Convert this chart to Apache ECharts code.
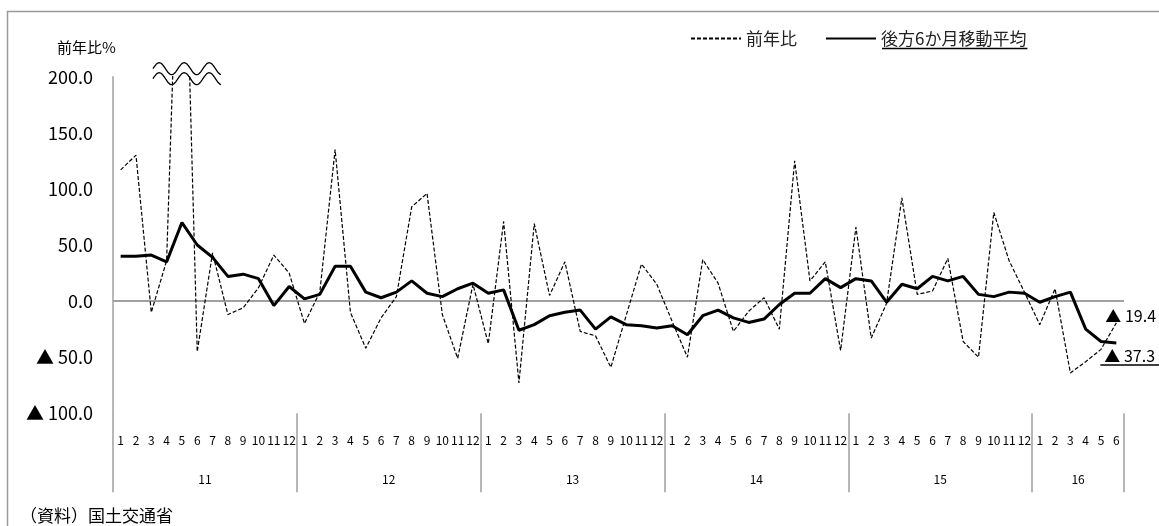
<!DOCTYPE html>
<html>
<head>
<meta charset="utf-8">
<script src="https://cdn.jsdelivr.net/npm/echarts/dist/echarts.min.js"></script>
<style>
  html, body { margin: 0; padding: 0; background: #fff; }
  #main { width: 1159px; height: 526px; }
</style>
</head>
<body>
<div id="main"></div>
<script>
// ===== データ =====
const years = ['11', '12', '13', '14', '15', '16']
const monthsInYear = [12, 12, 12, 12, 12, 6]

// 前年比（%）  11年5月は枠外（200超）
const yoy = [
  117, 130, -10, 36, 450, -45, 43, -12, -6, 12, 41, 25,
  -20, 8, 135, -10, -42, -15, 4, 84, 96, -12, -51, 15,
  -38, 71, -73, 69, 5, 35, -27, -31, -59, -13, 33, 15,
  -18, -50, 37, 16, -27, -9, 3, -25, 125, 18, 35, -44,
  66, -33, -2, 92, 6, 9, 38, -36, -50, 79, 36, 8,
  -21, 11, -64, -54, -43, -19.4
]
// 後方6か月移動平均（%）
const movingAvg = [
  40, 40, 41, 35, 70, 50, 39, 22, 24, 20, -4, 13,
  2, 6, 31, 31, 8, 3, 8, 18, 7, 4, 11, 16,
  7, 10, -26, -21, -13, -10, -8, -25, -14, -21, -22, -24,
  -22, -30, -13, -8, -15, -19, -16, -3, 7, 7, 20, 12,
  20, 18, -1, 15, 11, 22, 18, 22, 6, 4, 8, 7,
  -1, 4, 8, -25, -36, -37.3
]
const yMin = -100
const yMax = 200
const yStep = 50

// 月ラベルと年ラベルの組み立て
const months = []
const yearOfMonth = []
const yearStartIdx = []
const yearLabelIdx = []
let start = 0
years.forEach((y, i) => {
  yearStartIdx.push(start)
  yearLabelIdx.push(start + Math.floor(monthsInYear[i] / 2))
  for (let m = 1; m <= monthsInYear[i]; m++) {
    months.push(String(m))
    yearOfMonth.push(y)
  }
  start += monthsInYear[i]
})

const font = '"Noto Sans CJK JP", "Noto Sans", sans-serif'
const gray = '#a0a0a0'
const fmt = v => v < 0 ? '▲ ' + Math.abs(v).toFixed(1) : v.toFixed(1)

const grid = { left: 113, right: 35, top: 76.7, bottom: 112.7 }
const bandW = (1159 - grid.left - grid.right) / months.length

// 凡例テキストの幅（下線用）
const ctx = document.createElement('canvas').getContext('2d')
ctx.font = '17px ' + font
const maName = '後方6か月移動平均'
const maNameW = ctx.measureText(maName).width

let myChart = echarts.init(document.getElementById('main'))
let option = {
  animation: false,
  textStyle: { fontFamily: font, color: '#000' },
  title: [
    { text: '前年比%', left: 57, top: 40, padding: 0,
      textStyle: { fontSize: 15, fontWeight: 'normal', color: '#000', fontFamily: font } },
    { text: '（資料）国土交通省', left: 20, top: 507, padding: 0,
      textStyle: { fontSize: 17, fontWeight: 'normal', color: '#000', fontFamily: font } }
  ],
  legend: {
    left: 685, top: 25,
    itemWidth: 50, itemHeight: 12, itemGap: 28,
    itemStyle: { opacity: 0 },
    textStyle: { fontSize: 17, color: '#222', fontFamily: font },
    data: ['前年比', maName]
  },
  grid: Object.assign({ outerBoundsMode: 'none', containLabel: false }, grid),
  xAxis: [
    {
      type: 'category', data: months, position: 'bottom',
      axisLine: { show: false }, axisTick: { show: false },
      axisLabel: { interval: 0, fontSize: 12, margin: 21, color: '#000' }
    },
    {
      type: 'category', data: yearOfMonth, position: 'bottom',
      axisLine: { show: false },
      axisTick: {
        show: true, length: 79,
        interval: i => yearStartIdx.indexOf(i) >= 0,
        lineStyle: { color: gray, width: 1.5 }
      },
      axisLabel: {
        interval: i => yearLabelIdx.indexOf(i) >= 0,
        fontSize: 12, margin: 60, color: '#000',
        padding: [0, bandW, 0, 0]
      }
    }
  ],
  yAxis: {
    type: 'value', min: yMin, max: yMax, interval: yStep,
    axisLine: { show: true, lineStyle: { color: gray, width: 1.5 } },
    axisTick: { show: false },
    splitLine: { show: false },
    axisLabel: { fontSize: 18, color: '#000', margin: 20, formatter: fmt }
  },
  series: [
    {
      name: '前年比', type: 'line', data: yoy,
      xAxisIndex: 0, symbol: 'none', clip: true, z: 3,
      lineStyle: { color: '#000', width: 1.2, type: [4, 2] },
      itemStyle: { color: '#000' },
      endLabel: {
        show: true, distance: 0, offset: [-11, -7],
        fontSize: 16, color: '#000', fontFamily: font,
        formatter: p => fmt(p.value)
      },
      markLine: {
        silent: true, symbol: 'none', z: 1,
        label: { show: false },
        lineStyle: { color: gray, width: 2, type: 'solid' },
        data: [{ yAxis: 0 }]
      }
    },
    {
      name: maName, type: 'line', data: movingAvg,
      xAxisIndex: 0, symbol: 'none', clip: true, z: 4,
      lineStyle: { color: '#000', width: 3 },
      itemStyle: { color: '#000' },
      endLabel: {
        show: true, distance: 0, offset: [-12, 13],
        fontSize: 16, color: '#000', fontFamily: font,
        formatter: p => fmt(p.value)
      }
    }
  ]
}
myChart.setOption(option)

// 波線（省略記号）・下線・外枠
const last = months.length - 1
const pBreak = myChart.convertToPixel({ xAxisIndex: 0, yAxisIndex: 0 }, [4, yMax])
const pEnd = myChart.convertToPixel({ xAxisIndex: 0, yAxisIndex: 0 }, [last, movingAvg[last]])

function wave(x0, y0) {
  let pts = []
  for (let t = 0; t <= 68; t++) {
    pts.push([x0 + t, y0 - 6 * Math.sin(2 * Math.PI * t / 25)])
  }
  return pts
}

const legendText2X = 882

myChart.setOption({
  graphic: [
    { type: 'rect', silent: true,
      shape: { x: 7.5, y: 11.5, width: 1200, height: 600 },
      style: { fill: 'none', stroke: '#9a9a9a', lineWidth: 1.5 } },
    { type: 'polyline', silent: true, z: 10,
      shape: { points: wave(pBreak[0] - 29, pBreak[1] - 8) },
      style: { fill: 'none', stroke: '#000', lineWidth: 1.3 } },
    { type: 'polyline', silent: true, z: 10,
      shape: { points: wave(pBreak[0] - 29, pBreak[1] + 2) },
      style: { fill: 'none', stroke: '#000', lineWidth: 1.3 } },
    { type: 'line', silent: true,
      shape: { x1: pEnd[0] - 16, y1: pEnd[1] + 22, x2: 1160, y2: pEnd[1] + 22 },
      style: { stroke: '#000', lineWidth: 1.5 } },
    { type: 'line', silent: true,
      shape: { x1: legendText2X, y1: 48.5, x2: legendText2X + maNameW, y2: 48.5 },
      style: { stroke: '#000', lineWidth: 1.5 } }
  ]
})
</script>
</body>
</html>
